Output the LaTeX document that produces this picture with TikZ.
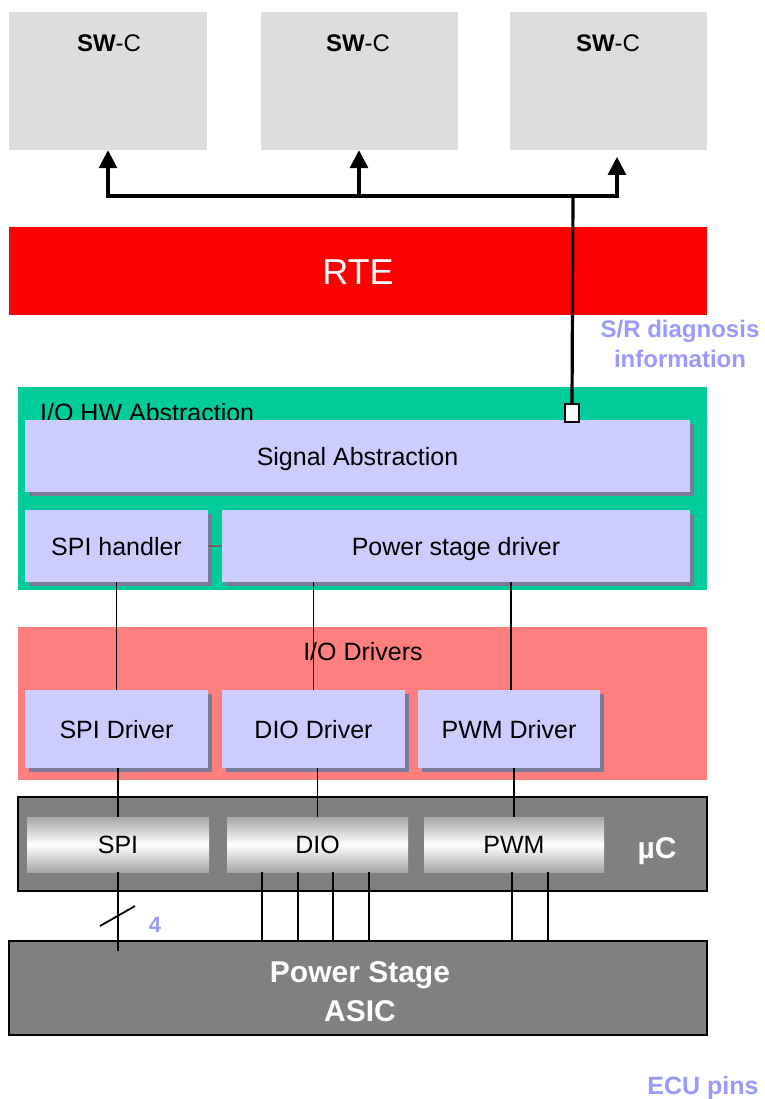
\documentclass[tikz,border=0pt]{standalone}
\usepackage{fontspec}
\setmainfont{Liberation Sans}
\usetikzlibrary{arrows.meta,shadows}
\definecolor{swcgray}{HTML}{DDDDDD}
\definecolor{rtered}{HTML}{FF0000}
\definecolor{hwgreen}{HTML}{00CC99}
\definecolor{lav}{HTML}{CCCCFF}
\definecolor{lavshadow}{HTML}{7A7A99}
\definecolor{salmon}{HTML}{FF7F7F}
\definecolor{mcgray}{HTML}{808080}
\definecolor{bluetxt}{HTML}{9999FF}
\definecolor{boxgrad}{HTML}{A6A6A6}
\tikzset{
  swcbox/.style={fill=swcgray, draw=none, inner sep=0pt, minimum height=138pt},
  layer/.style={draw=none, inner sep=0pt},
  lavbox/.style={fill=lav, draw=none, inner sep=0pt, font=\fontsize{25}{30}\selectfont,
     text height=18pt, text depth=0pt,
     drop shadow={shadow xshift=3.5pt, shadow yshift=-3.5pt, fill=lavshadow, opacity=1}},
  periph/.style={draw=none, inner sep=0pt, minimum height=55pt,
     top color=boxgrad, bottom color=boxgrad, middle color=white,
     font=\fontsize{25}{30}\selectfont, text height=18pt, text depth=0pt},
  chip/.style={fill=mcgray, draw=black, line width=1.5pt, inner sep=0pt},
  lbl/.style={font=\fontsize{25}{30}\selectfont, inner sep=0pt},
  swclbl/.style={font=\fontsize{24}{28}\selectfont, inner sep=0pt, anchor=base},
  bluelbl/.style={text=bluetxt, inner sep=0pt},
  bus/.style={line width=3.2pt},
  busarrow/.style={line width=3.2pt, -{Triangle[width=18pt,length=18pt]}},
  wire/.style={line width=1.8pt},
}
\begin{document}
\begin{tikzpicture}[x=1pt,y=-1pt]
\useasboundingbox[fill=white] (0,0) rectangle (764,1099);

% SW-C boxes
\node[swcbox, minimum width=198pt] (sw1) at (108,81) {};
\node[swcbox, minimum width=197pt] (sw2) at (359,81) {};
\node[swcbox, minimum width=197pt] (sw3) at (608.5,81) {};
\node[swclbl] (sw1t) at (109,52) {\textbf{SW}-C};
\node[swclbl] (sw2t) at (358,52) {\textbf{SW}-C};
\node[swclbl] (sw3t) at (608,52) {\textbf{SW}-C};

% RTE
\node[layer, fill=rtered, minimum width=698pt, minimum height=88pt,
      font=\fontsize{36}{40}\selectfont, text=white, text height=26pt, text depth=0pt] (rte) at (358,271) {RTE};

% S/R diagnosis information
\node[bluelbl, font=\bfseries\fontsize{24}{30}\selectfont, align=center] (srtxt) at (680,344) {S/R diagnosis\\information};

% I/O HW Abstraction
\node[layer, fill=hwgreen, minimum width=689pt, minimum height=203pt] (hw) at (362.5,488.5) {};
\node[lbl, anchor=base west] (hwlbl) at (40,421) {I/O HW Abstraction};
\node[lavbox, minimum width=665pt, minimum height=72pt] (sig) at (357.5,456) {Signal Abstraction};
\node[lavbox, minimum width=183pt, minimum height=72pt] (spih) at (116.5,546) {SPI handler};
\node[lavbox, minimum width=468pt, minimum height=72pt] (psd) at (456,546) {Power stage driver};

% I/O Drivers
\node[layer, fill=salmon, minimum width=689pt, minimum height=153pt] (iod) at (362.5,703.5) {};
\node[lbl, anchor=base] (iodlbl) at (363,660) {I/O Drivers};
\node[lavbox, minimum width=183pt, minimum height=78pt] (spidrv) at (116.5,729) {SPI Driver};
\node[lavbox, minimum width=183pt, minimum height=78pt] (diodrv) at (313.5,729) {DIO Driver};
\node[lavbox, minimum width=182pt, minimum height=78pt] (pwmdrv) at (509,729) {PWM Driver};

% microcontroller
\node[chip, minimum width=689pt, minimum height=94pt] (uc) at (362.5,844) {};
\node[periph, minimum width=182pt] (spi) at (118,844.5) {SPI};
\node[periph, minimum width=181pt] (dio) at (317.5,844.5) {DIO};
\node[periph, minimum width=180pt] (pwm) at (514,844.5) {PWM};
\node[inner sep=0pt, anchor=base, text=white, font=\bfseries\fontsize{30}{36}\selectfont] (uclbl) at (657,858) {µC};

% Power stage ASIC
\node[chip, minimum width=698pt, minimum height=94pt] (asic) at (358,988) {};
\node[inner sep=0pt, align=center, text=white, font=\bfseries\fontsize{30}{39}\selectfont] (asiclbl) at (360,991.5) {Power Stage\\ASIC};

% bus to SW-Cs
\coordinate (b1) at (108,196);
\coordinate (b2) at (359,196);
\coordinate (b3) at (617,196);
\coordinate (bj) at (573,196);
\coordinate (t3) at (617,157);
\draw[bus, line cap=rect] (b1) -- (b3);
\draw[busarrow] (b1) -- (sw1.south);
\draw[busarrow] (b2) -- (sw2.south);
\draw[busarrow] (b3) -- (t3);
\node[draw=black, fill=white, line width=1.8pt, minimum width=14pt, minimum height=18pt, inner sep=0pt] (sq) at (572,413) {};
\draw[bus] (bj) -- (sq.north);

% connectors
\draw[wire, draw=black!60] (spih.east) -- (psd.west);
\draw[wire] (spih.south) -- (spidrv.north);
\draw[wire] (diodrv.north |- psd.south) -- (diodrv.north);
\draw[wire] ([xshift=2pt]pwmdrv.north |- psd.south) -- ([xshift=2pt]pwmdrv.north);
\draw[wire] (spidrv.south -| spi.south) -- (spi.north);
\draw[wire] (dio.north |- diodrv.south) -- (dio.north);
\draw[wire] (pwm.north |- pwmdrv.south) -- (pwm.north);

% SPI to ASIC with bus width mark
\draw[wire] (spi.south) -- ([yshift=-11pt]spi.south |- asic.north);
\coordinate (slashc) at (118,916);
\draw[wire] ([shift={(-18,10)}]slashc) -- ([shift={(17,-10)}]slashc);
\node[bluelbl, anchor=base, font=\bfseries\fontsize{22}{26}\selectfont] (four) at (155,932) {4};

% DIO and PWM lines to ASIC
\foreach \dx in {35,71,106,142}{
  \draw[wire] ([xshift=\dx pt]dio.south west) -- ([xshift=\dx pt]dio.south west |- asic.north);
}
\foreach \dx in {88,124}{
  \draw[wire] ([xshift=\dx pt]pwm.south west) -- ([xshift=\dx pt]pwm.south west |- asic.north);
}

% ECU pins
\node[bluelbl, anchor=base, font=\bfseries\fontsize{25}{30}\selectfont] (ecu) at (703,1094) {ECU pins};
\end{tikzpicture}
\end{document}
